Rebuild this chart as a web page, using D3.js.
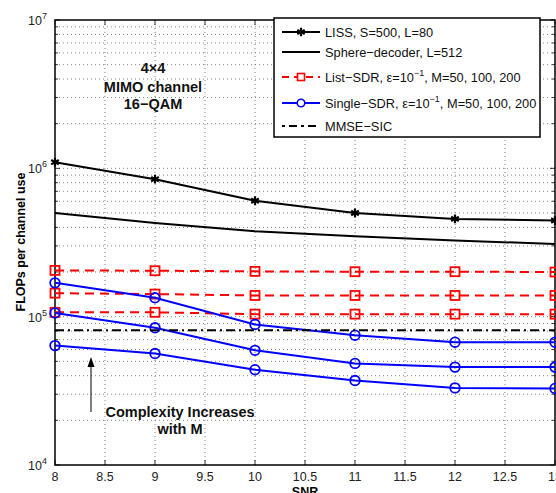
<!DOCTYPE html>
<html>
<head>
<meta charset="utf-8">
<script src="https://cdn.jsdelivr.net/npm/d3@7"></script>
<style>
  html, body { margin: 0; padding: 0; background: #fff; }
  svg { display: block; font-family: "Liberation Sans", Arial, Helvetica, sans-serif; }
</style>
</head>
<body>
<svg id="chart" width="556" height="493"></svg>
<script>
// SNR points (dB)
const snr = [8, 9, 10, 11, 12, 13];

// FLOPs per channel use for each detector
const liss = [1.10e6, 8.45e5, 6.05e5, 5.0e5, 4.56e5, 4.45e5];
const sphere = [5.0e5, 4.28e5, 3.77e5, 3.48e5, 3.26e5, 3.09e5];
const listSdrM200 = [2.05e5, 2.04e5, 2.02e5, 2.01e5, 2.01e5, 2.0e5];
const listSdrM100 = [1.44e5, 1.42e5, 1.39e5, 1.39e5, 1.39e5, 1.39e5];
const listSdrM50 = [1.07e5, 1.07e5, 1.04e5, 1.04e5, 1.04e5, 1.04e5];
const singleSdrM200 = [1.69e5, 1.34e5, 8.87e4, 7.5e4, 6.73e4, 6.73e4];
const singleSdrM100 = [1.06e5, 8.41e4, 5.93e4, 4.84e4, 4.57e4, 4.57e4];
const singleSdrM50 = [6.38e4, 5.64e4, 4.39e4, 3.71e4, 3.31e4, 3.28e4];
const mmseSic = [8.1e4, 8.1e4, 8.1e4, 8.1e4, 8.1e4, 8.1e4];

// Axis ticks
const xTicks = [8, 8.5, 9, 9.5, 10, 10.5, 11, 11.5, 12, 12.5, 13];
const yMajorExponents = [4, 5, 6, 7];

// Legend labels
const legendLabels = [
  "LISS, S=500, L=80",
  "Sphere\u2212decoder, L=512",
  "List\u2212SDR, \u03b5=10",
  "Single\u2212SDR, \u03b5=10",
  "MMSE\u2212SIC"
];

const svg = d3.select("#chart");
const pLeft = 55, pRight = 555, pTop = 20, pBottom = 465;

const x = d3.scaleLinear().domain([8, 13]).range([pLeft, pRight]);
const y = d3.scaleLog().domain([1e4, 1e7]).range([pBottom, pTop]);

// minor (and major) decade values for the grid
const yGrid = [];
for (let e = 4; e < 7; e++) for (let m = 1; m < 10; m++) yGrid.push(m * Math.pow(10, e));
yGrid.push(1e7);

const gridG = svg.append("g");
gridG.selectAll("line.gy").data(yGrid.filter(v => v > 1e4 && v < 1e7)).join("line")
  .attr("x1", pLeft).attr("x2", pRight)
  .attr("y1", d => y(d)).attr("y2", d => y(d))
  .attr("stroke", "#666").attr("stroke-width", 0.8).attr("stroke-dasharray", "1,3");
gridG.selectAll("line.gx").data(xTicks.filter(v => v > 8 && v < 13)).join("line")
  .attr("x1", d => x(d)).attr("x2", d => x(d))
  .attr("y1", pTop).attr("y2", pBottom)
  .attr("stroke", "#666").attr("stroke-width", 0.8).attr("stroke-dasharray", "1,3");

// tick marks pointing inwards on all four sides
const tickG = svg.append("g").attr("stroke", "#000").attr("stroke-width", 0.8);
xTicks.forEach(v => {
  tickG.append("line").attr("x1", x(v)).attr("x2", x(v)).attr("y1", pBottom).attr("y2", pBottom - 5);
  tickG.append("line").attr("x1", x(v)).attr("x2", x(v)).attr("y1", pTop).attr("y2", pTop + 5);
});
yGrid.forEach(v => {
  const len = yMajorExponents.some(e => Math.abs(Math.pow(10, e) - v) < 1) ? 5 : 3;
  tickG.append("line").attr("x1", pLeft).attr("x2", pLeft + len).attr("y1", y(v)).attr("y2", y(v));
  tickG.append("line").attr("x1", pRight).attr("x2", pRight - len).attr("y1", y(v)).attr("y2", y(v));
});

// frame
svg.append("rect").attr("x", pLeft).attr("y", pTop)
  .attr("width", pRight - pLeft).attr("height", pBottom - pTop)
  .attr("fill", "none").attr("stroke", "#000").attr("stroke-width", 1.5);

// x tick labels
svg.append("g").selectAll("text").data(xTicks).join("text")
  .attr("x", d => x(d)).attr("y", pBottom + 16)
  .attr("text-anchor", "middle").attr("font-size", 12.5).attr("fill", "#222")
  .text(d => d);

// y tick labels: 10^n
const yl = svg.append("g").selectAll("text").data(yMajorExponents).join("text")
  .attr("x", 47).attr("y", d => y(Math.pow(10, d)) + 5)
  .attr("text-anchor", "end").attr("font-size", 12.5).attr("fill", "#222");
yl.append("tspan").text("10");
yl.append("tspan").attr("dy", -6).attr("font-size", 9).text(d => d);

// axis titles
svg.append("text").attr("x", 305).attr("y", 496)
  .attr("text-anchor", "middle").attr("font-size", 12.5).attr("font-weight", "bold").text("SNR");
svg.append("text").attr("transform", "translate(25,242) rotate(-90)")
  .attr("text-anchor", "middle").attr("font-size", 12.5).attr("font-weight", "bold")
  .text("FLOPs per channel use");

// series
const line = d3.line().x((d, i) => x(snr[i])).y(d => y(d));
const plot = svg.append("g");

function drawSeries(values, color, dash, marker) {
  plot.append("path").datum(values).attr("d", line)
    .attr("fill", "none").attr("stroke", color).attr("stroke-width", 2)
    .attr("stroke-dasharray", dash || null);
  if (!marker) return;
  const g = plot.append("g");
  values.forEach((v, i) => {
    const cx = x(snr[i]), cy = y(v);
    if (marker === "star") {
      g.append("path").attr("transform", `translate(${cx},${cy})`)
        .attr("d", d3.symbol(d3.symbolAsterisk, 55)())
        .attr("fill", "none").attr("stroke", color).attr("stroke-width", 2.2);
    } else if (marker === "square") {
      g.append("rect").attr("x", cx - 4.5).attr("y", cy - 4.5).attr("width", 9).attr("height", 9)
        .attr("fill", "none").attr("stroke", color).attr("stroke-width", 1.8);
    } else if (marker === "circle") {
      g.append("circle").attr("cx", cx).attr("cy", cy).attr("r", 4.8)
        .attr("fill", "none").attr("stroke", color).attr("stroke-width", 1.8);
    }
  });
}

drawSeries(liss, "#000", null, "star");
drawSeries(sphere, "#000", null, null);
[listSdrM200, listSdrM100, listSdrM50].forEach(s => drawSeries(s, "#ff0000", "9,6", "square"));
[singleSdrM200, singleSdrM100, singleSdrM50].forEach(s => drawSeries(s, "#0000ff", null, "circle"));
drawSeries(mmseSic, "#000", "9,4,2,4", null);

// annotations
const ann1 = svg.append("text").attr("text-anchor", "middle").attr("font-size", 14.5)
  .attr("font-weight", "bold").attr("fill", "#111");
ann1.append("tspan").attr("x", 153).attr("y", 73).text("4\u00d74");
ann1.append("tspan").attr("x", 153).attr("y", 92).text("MIMO channel");
ann1.append("tspan").attr("x", 153).attr("y", 109).text("16\u2212QAM");

const ann2 = svg.append("text").attr("text-anchor", "middle").attr("font-size", 14.5)
  .attr("font-weight", "bold").attr("fill", "#111");
ann2.append("tspan").attr("x", 180).attr("y", 417).text("Complexity Increases");
ann2.append("tspan").attr("x", 180).attr("y", 434).text("with M");

svg.append("line").attr("x1", 91).attr("x2", 91).attr("y1", 412).attr("y2", 364)
  .attr("stroke", "#000").attr("stroke-width", 1);
svg.append("path").attr("d", "M91,357 L87.5,367 L94.5,367 Z").attr("fill", "#000");

// legend
const lg = svg.append("g");
lg.append("rect").attr("x", 274).attr("y", 18).attr("width", 266).attr("height", 119)
  .attr("fill", "#fff").attr("stroke", "#000").attr("stroke-width", 1.5);
const rowsY = [32, 52, 77, 103, 126];
const styles = [
  { color: "#000", dash: null, marker: "star" },
  { color: "#000", dash: null, marker: null },
  { color: "#ff0000", dash: "7,5", marker: "square" },
  { color: "#0000ff", dash: null, marker: "circle" },
  { color: "#000", dash: "3,4,8,4", marker: null }
];
styles.forEach((st, i) => {
  const ry = rowsY[i];
  lg.append("line").attr("x1", 282).attr("x2", 320).attr("y1", ry).attr("y2", ry)
    .attr("stroke", st.color).attr("stroke-width", 2).attr("stroke-dasharray", st.dash);
  if (st.marker === "star") {
    lg.append("path").attr("transform", `translate(301,${ry})`)
      .attr("d", d3.symbol(d3.symbolAsterisk, 50)()).attr("fill", "none")
      .attr("stroke", st.color).attr("stroke-width", 2.2);
  } else if (st.marker === "square") {
    lg.append("rect").attr("x", 297.5).attr("y", ry - 3.5).attr("width", 7).attr("height", 7)
      .attr("fill", "#fff").attr("stroke", st.color).attr("stroke-width", 1.6);
  } else if (st.marker === "circle") {
    lg.append("circle").attr("cx", 301).attr("cy", ry).attr("r", 3.8)
      .attr("fill", "#fff").attr("stroke", st.color).attr("stroke-width", 1.6);
  }
  const t = lg.append("text").attr("x", 325).attr("y", ry + 4.5).attr("font-size", 12.8).attr("fill", "#111");
  t.append("tspan").text(legendLabels[i]);
  if (i === 2 || i === 3) {
    t.append("tspan").attr("dy", -6).attr("font-size", 9).text("\u22121");
    t.append("tspan").attr("dy", 6).text(", M=50, 100, 200");
  }
});
</script>
</body>
</html>
